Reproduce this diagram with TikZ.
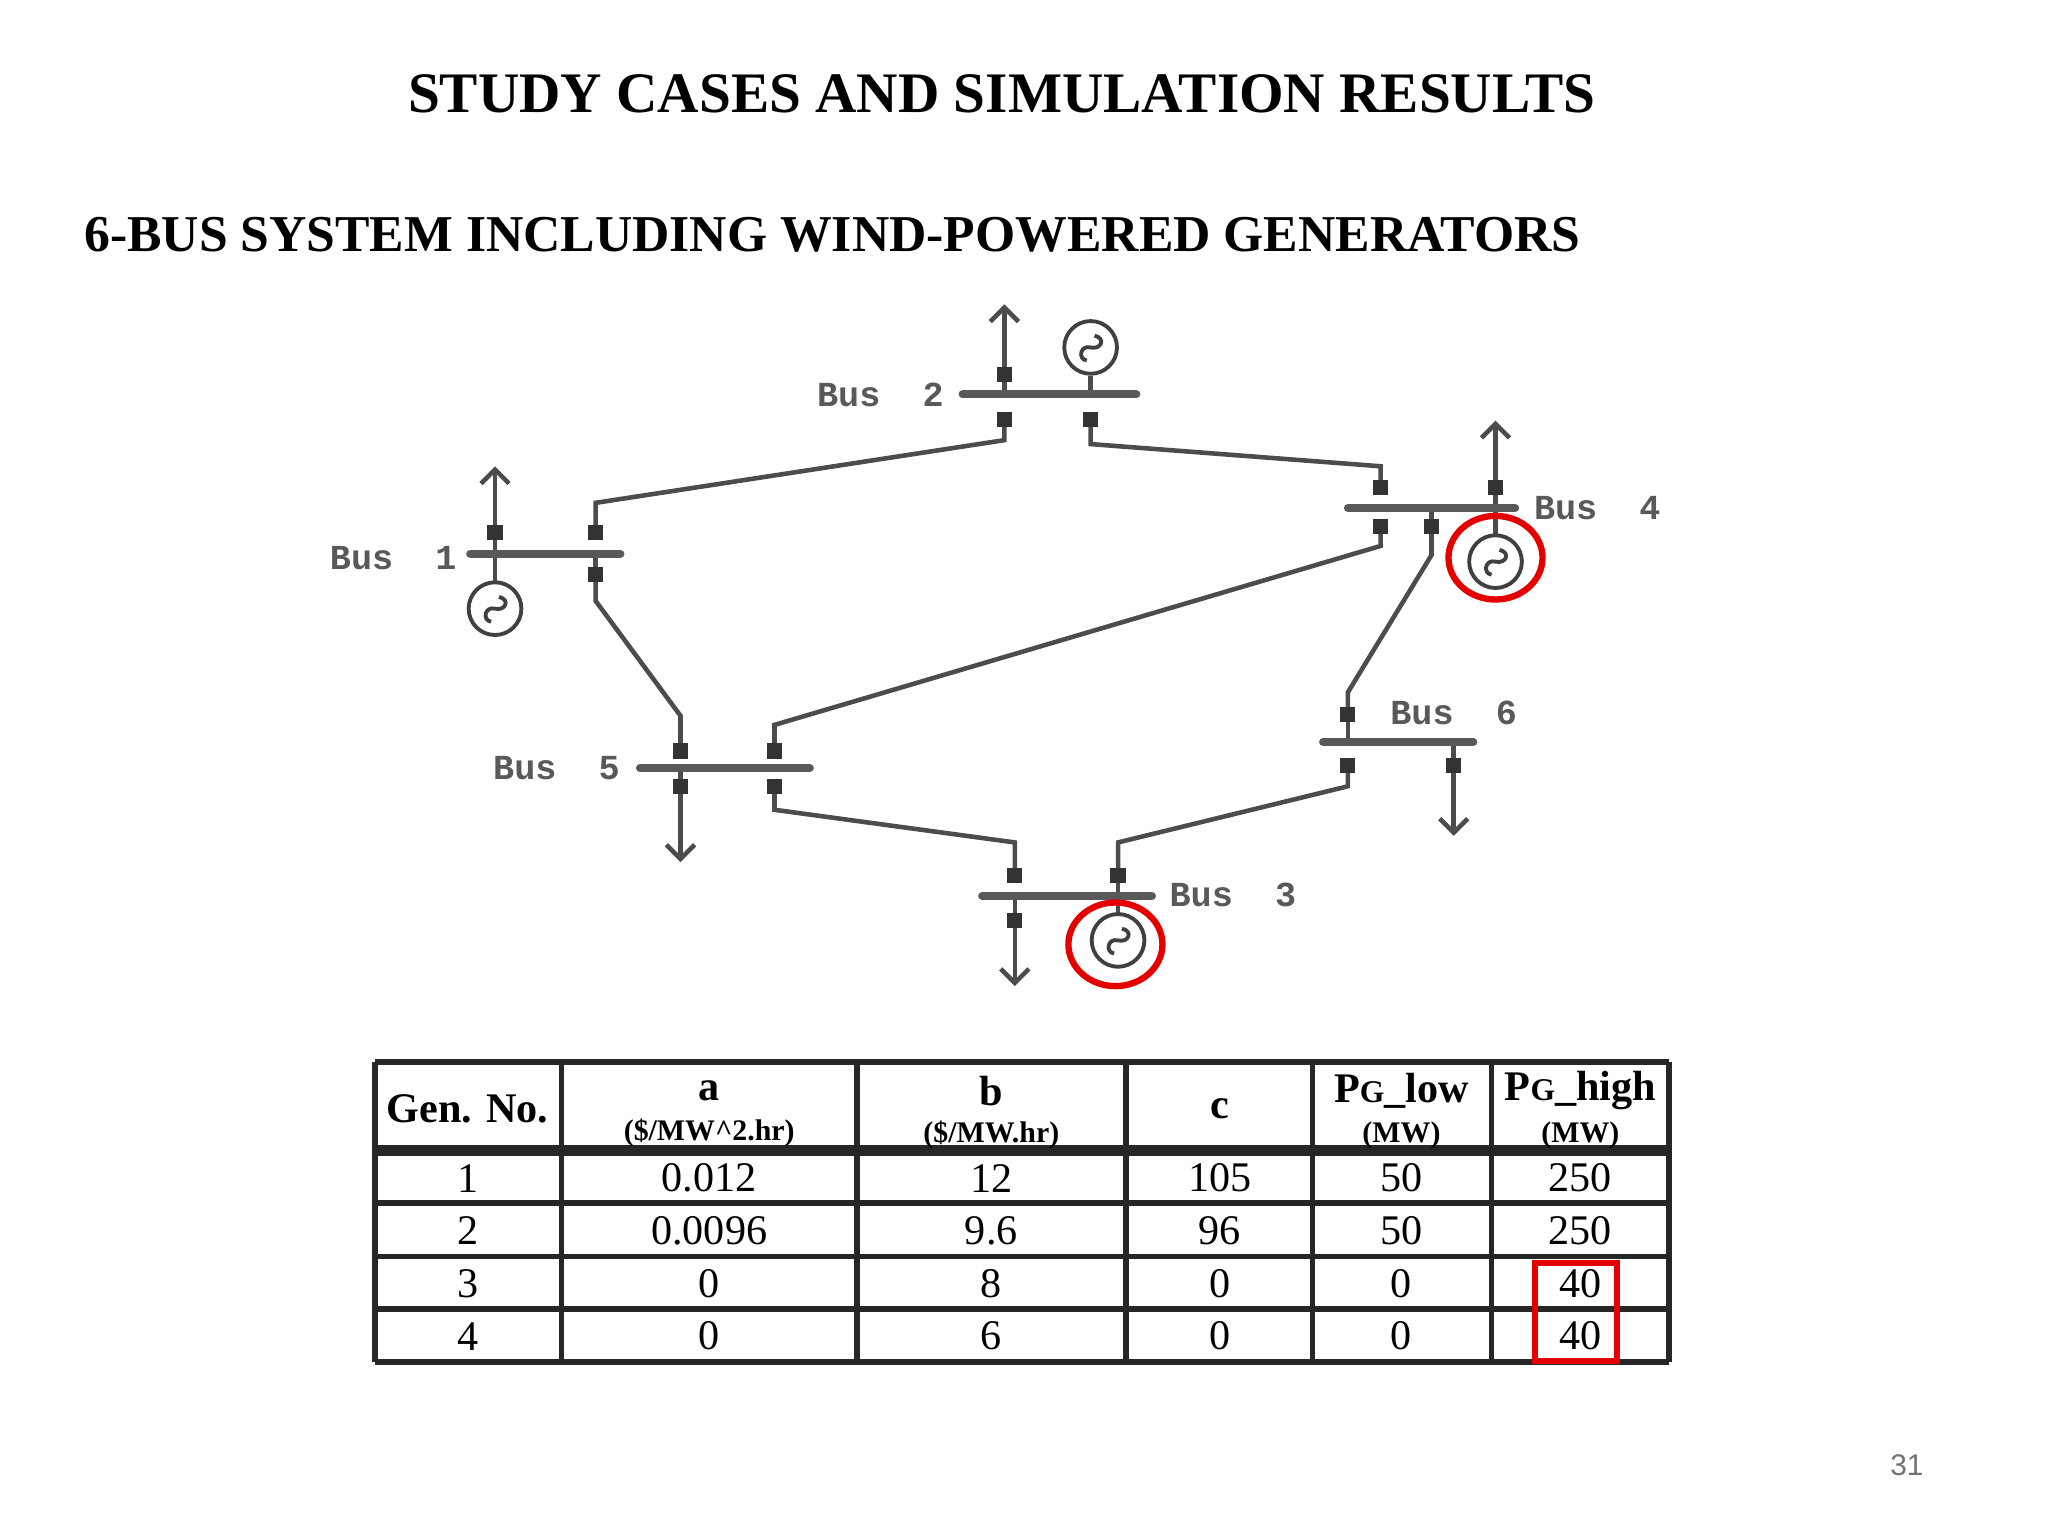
\documentclass[tikz,border=0pt]{standalone}
\usetikzlibrary{arrows.meta,calc}
\usepackage{fontspec}
\setmainfont{Liberation Serif}
\newfontfamily\monof{Liberation Mono}
\newfontfamily\sansf{Liberation Sans}
\begin{document}
\begin{tikzpicture}[x=0.013061cm,y=-0.013061cm,
  bar/.style={line width=2.3pt,color=black!65,line cap=round},
  ln/.style={line width=1.3pt,color=black!70},
  brk/.style={fill=black!80,minimum size=4.3pt,inner sep=0pt,draw=none},
  lbl/.style={font=\monof\bfseries\fontsize{10}{12}\selectfont,text=black!65},
  gen/.style={circle,draw=black!75,line width=1.1pt,minimum size=15pt,inner sep=0pt},
  ld/.style={ln,-{Straight Barb[length=4pt,width=8pt]}},
  cell/.style={font=\fontsize{12}{14}\selectfont},
  hd/.style={font=\bfseries\fontsize{12}{14}\selectfont},
  sub/.style={font=\bfseries\fontsize{8.5}{10}\selectfont},
  tl/.style={line width=1.6pt,color=black!85}]
\useasboundingbox (0,0) rectangle (1568,1176);
\node[font=\bfseries\fontsize{16.3}{20}\selectfont] (t1) at (767,72) {STUDY CASES AND SIMULATION RESULTS};
\node[font=\bfseries\fontsize{14.7}{19}\selectfont,anchor=west] (t2) at (55,180) {6-BUS SYSTEM INCLUDING WIND-POWERED GENERATORS};
\node[font=\sansf\fontsize{8.5}{10}\selectfont,text=black!55] (pg) at (1460,1122) {31};
\newcommand\gensym[2]{\node[gen] (#2) at (#1) {};
 \draw[black!75,line width=1.1pt] ($(#1)+(3,-9)$) .. controls ($(#1)+(12,-7)$) and ($(#1)+(8,2)$) .. ($(#1)+(0,0)$) .. controls ($(#1)+(-8,-2)$) and ($(#1)+(-10,9)$) .. ($(#1)+(-3,10)$);}
\foreach \n/\x/\y in {b2a/769/287,b2b/769/321,b2c/835/321,
  b1a/379/408,b1b/456/408,b1c/456/440,
  b5a/521/575,b5b/593/575,b5c/521/602,b5d/593/602,
  b4a/1057/373,b4b/1145/373,b4c/1057/403,b4d/1096/403,
  b6a/1032/547,b6b/1032/586,b6c/1113/586,
  b3a/777/670,b3b/856/670,b3c/777/705}{\coordinate (\n) at (\x,\y);}
\draw[ln] (b2b) |- (769,337) -- (456,385) -- (b1b);
\draw[ln] (b2c) -- (835,340) -- (1057,357) -- (b4a);
\draw[ln] (b1c) -- (456,460) -- (521,548) -- (b5a);
\draw[ln] (b5b) -- (593,555) -- (1057,418) -- (b4c);
\draw[ln] (b5d) -- (593,620) -- (777,645) -- (b3a);
\draw[ln] (b4d) -- (1096,425) -- (1032,530) -- (b6a);
\draw[ln] (b6b) -- (1032,602) -- (856,645) -- (b3b);
\coordinate (l2) at (769,233); \coordinate (l1) at (379,357); \coordinate (l4) at (1145,322);
\coordinate (l5) at (521,660); \coordinate (l6) at (1113,640); \coordinate (l3) at (777,755);
\draw[ld] (769,302) -- (l2); \draw[ld] (379,424) -- (l1); \draw[ld] (1145,389) -- (l4);
\draw[ld] (521,588) -- (l5); \draw[ld] (1113,568) -- (l6); \draw[ld] (777,686) -- (l3);
\draw[ln] (835,288) -- (835,302); \draw[ln] (379,424) -- (379,447);
\draw[ln] (1145,389) -- (1145,409); \draw[ln] (856,686) -- (856,699);
\draw[ln] (b3b) -- (856,686); \draw[ln] (b6a)--(1032,568); \draw[ln] (b6c)--(1113,568);
\draw[ln] (b4d)--(1096,389); \draw[ln] (b1c)--(456,424); \draw[ln] (b5c)--(521,588);
\draw[bar] (737,302) -- (870,302);
\draw[bar] (360,424) -- (475,424);
\draw[bar] (490,588) -- (620,588);
\draw[bar] (1032,389) -- (1160,389);
\draw[bar] (1013,568) -- (1128,568);
\draw[bar] (752,686) -- (882,686);
\foreach \n in {b2a,b2b,b2c,b1a,b1b,b1c,b5a,b5b,b5c,b5d,b4a,b4b,b4c,b4d,b6a,b6b,b6c,b3a,b3b,b3c}{\node[brk] at (\n) {};}
\gensym{835,266}{g2}
\gensym{379,466}{g1}
\gensym{1145,430}{g4}
\gensym{856,720}{g3}
\draw[red!90!black,line width=1.8pt] (1145,427) ellipse (36 and 32);
\draw[red!90!black,line width=1.8pt] (854,723) ellipse (36 and 32);
\node[lbl,anchor=east] (lb2) at (732,302) {Bus\ \ 2};
\node[lbl,anchor=east] (lb1) at (359,427) {Bus\ \ 1};
\node[lbl,anchor=west] (lb4) at (1165,389) {Bus\ \ 4};
\node[lbl,anchor=east] (lb5) at (484,588) {Bus\ \ 5};
\node[lbl,anchor=west] (lb6) at (1055,546) {Bus\ \ 6};
\node[lbl,anchor=west] (lb3) at (886,685) {Bus\ \ 3};
\foreach \x in {287,430,656,862,1005,1142,1278}{\draw[tl] (\x,813) -- (\x,1043);}
\foreach \y in {813,921,962,1002,1043}{\draw[tl] (287,\y) -- (1278,\y);}
\draw[line width=3pt,black!85] (287,881) -- (1278,881);
\node[hd] (h1) at (358,849) {Gen. No.};
\node[hd] (h2) at (543,835) {a};
\node[sub] (h2b) at (543,867) {(\$/MW\^{}2.hr)};
\node[hd] (h3) at (759,835) {b};
\node[sub] (h3b) at (759,869) {(\$/MW.hr)};
\node[hd] (h4) at (934,849) {c};
\node[hd] (h5) at (1073,835) {P{\fontsize{9}{11}\selectfont G}\_low};
\node[sub] (h5b) at (1073,869) {(MW)};
\node[hd] (h6) at (1210,835) {P{\fontsize{9}{11}\selectfont G}\_high};
\node[sub] (h6b) at (1210,869) {(MW)};
\foreach \r/\y/\a/\b/\c/\d/\e/\f in {1/902/1/0.012/12/105/50/250,2/942/2/0.0096/9.6/96/50/250,3/983/3/0/8/0/0/40,4/1023/4/0/6/0/0/40}{
 \node[cell] at (358,\y) {\a}; \node[cell] at (543,\y) {\b}; \node[cell] at (759,\y) {\c};
 \node[cell] at (934,\y) {\d}; \node[cell] at (1073,\y) {\e}; \node[cell] at (1210,\y) {\f};}
\draw[red!90!black,line width=1.8pt] (1175,967) rectangle (1238,1042);
\end{tikzpicture}
\end{document}
